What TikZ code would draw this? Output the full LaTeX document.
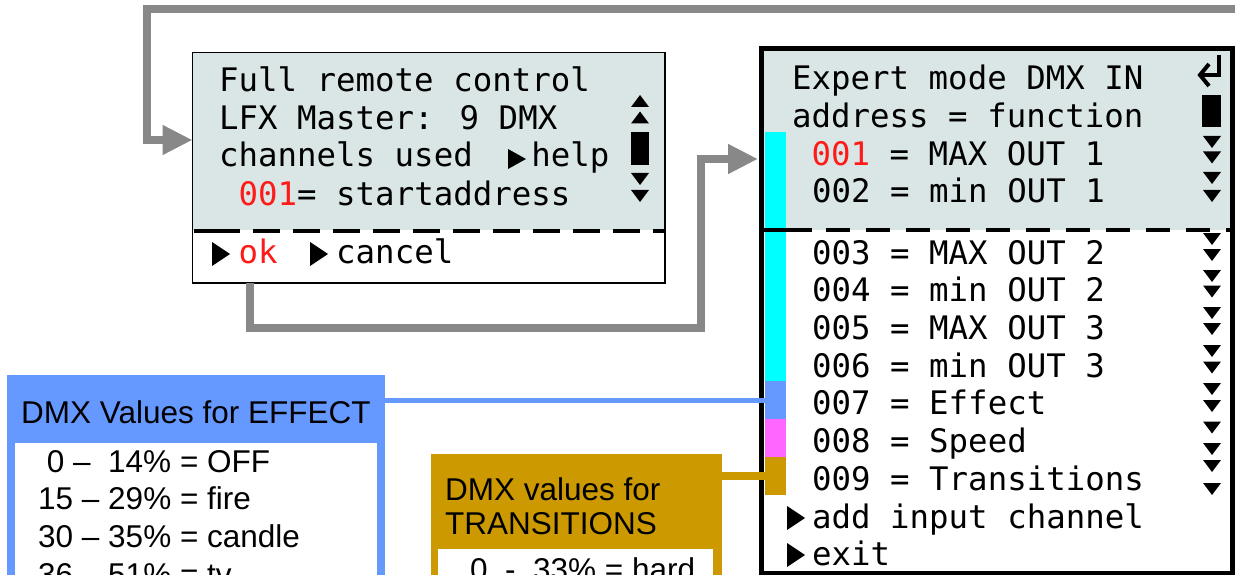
\documentclass[tikz,border=0pt]{standalone}
\usepackage{fontspec}
\setmainfont{Liberation Sans}
\newfontfamily\lcdfont{DejaVu Sans Mono}
\usetikzlibrary{positioning}
\usetikzlibrary{arrows.meta}

\definecolor{lcdbg}{HTML}{DAE6E6}
\definecolor{linkgray}{HTML}{888888}
\definecolor{outcyan}{HTML}{00FFFF}
\definecolor{fxblue}{HTML}{6699FF}
\definecolor{trgold}{HTML}{CC9900}
\definecolor{spdpink}{HTML}{FF66FF}
\definecolor{lcdred}{HTML}{FF1A1A}

\tikzset{
  lcd/.style={anchor=base west,inner sep=0pt,font=\lcdfont\fontsize{32.4}{38}\selectfont},
  legend/.style={anchor=base west,inner sep=0pt,font=\fontsize{31.5}{38}\selectfont},
  screen/.style={anchor=north west,outer sep=0pt,inner sep=0pt,fill=white,draw=black},
  band/.style={anchor=north west,outer sep=0pt,inner sep=0pt,minimum width=21pt,minimum height=38pt},
  link/.style={linkgray,line width=8pt,-{Triangle[width=28pt,length=30pt]}},
}

\begin{document}
\begin{tikzpicture}[x=1pt,y=-1pt]
 \useasboundingbox (0,0) rectangle (1235,575);
 \clip (0,0) rectangle (1235,575);

 % left screen
 \node[screen,line width=1.5pt,minimum width=472.5pt,minimum height=230.5pt,
   path picture={\fill[lcdbg] (path picture bounding box.north west) rectangle ([yshift=53pt]path picture bounding box.south east);}]
   (remote) at (192.5,52.5) {};
 \draw[line width=4pt] (194,231) -- (240,231);
 \draw[line width=4pt,dash pattern=on 27pt off 13pt] (253,231) -- (664,231);
 \node[lcd] (l1) at (219,92) {Full remote control};
 \node[lcd] (l2) at (219,130) {LFX Master: 9 DMX};
 \node[lcd] (l3) at (219,167) {channels used~~~help};
 \node[lcd] (l4) at (219,205) {~{\color{lcdred}001}= startaddress};
 \node[lcd] (l5) at (219,263) {~{\color{lcdred}ok}~~~cancel};
 \foreach \y in {101,117.5} \fill (631,\y+6) -- (649,\y+6) -- (640,\y-6) -- cycle;
 \fill (631,132) rectangle (649,165);
 \foreach \y in {179,196} \fill (631,\y-6) -- (649,\y-6) -- (640,\y+6) -- cycle;

 % right screen
 \node[screen,line width=5pt,minimum width=471pt,minimum height=524pt,
   path picture={\fill[lcdbg] (path picture bounding box.north west) rectangle ([yshift=-181pt]path picture bounding box.north east);}]
   (expert) at (761,49) {};
 \node[band,fill=outcyan,minimum height=249pt] (bandout) at (765,132) {};
 \node[band,fill=fxblue,below=0pt of bandout] (bandfx) {};
 \node[band,fill=spdpink,below=0pt of bandfx] (bandspd) {};
 \node[band,fill=trgold,below=0pt of bandspd] (bandtr) {};
 \draw[line width=4pt] (763,230) -- (812,230);
 \draw[line width=4pt,dash pattern=on 24pt off 16pt] (826,230) -- (1230,230);
 \node[lcd] (title) at (792,90) {Expert mode DMX IN};
 \node[lcd] (head) at (792,127.5) {address = function};
 \node[lcd] (row1) at (792,166) {~{\color{lcdred}001} = MAX OUT 1};
 \foreach \y/\txt [count=\i from 2] in {203/002 = min OUT 1, 264/003 = MAX OUT 2,
   301/004 = min OUT 2, 339/005 = MAX OUT 3, 377/006 = min OUT 3, 414/007 = Effect,
   452/008 = Speed, 490/009 = Transitions}
   \node[lcd] (row\i) at (812,\y) {\txt};
 \node[lcd] (addch) at (812,528) {add input channel};
 \node[lcd] (exit) at (812,565) {exit};
 \draw[line width=4pt] (1219,55) -- (1219,75) -- (1200,75);
 \draw[line width=4pt] (1209,64) -- (1200,75) -- (1209,86);
 \fill (1202,95) rectangle (1221,127);
 \foreach \y in {142,157.5,178,196,239,255,276,291.5,313,329,351,367.5,389,406,427.5,449,466,489}
   \fill (1203,\y-6) -- (1221,\y-6) -- (1212,\y+6) -- cycle;

 % pointers
 \foreach \x/\y/\h in {508/159/10, 212/254/12, 310/254/12, 787/518/12, 787/555/12}
   \fill (\x,\y-\h) -- (\x+18,\y) -- (\x,\y+\h) -- cycle;

 % legend boxes
 \node[screen,draw=none,fill=fxblue,minimum width=378pt,minimum height=260pt,
   path picture={\fill[white] ([xshift=8pt,yshift=-68pt]path picture bounding box.north west) rectangle ([xshift=-8pt]path picture bounding box.south east);}]
   (effect) at (7,375) {};
 \node[legend] (fxhead) at (21,423) {DMX Values for EFFECT};
 \node[legend] (fx1) at (38,472) {\ 0 –\ \ 14\% = OFF};
 \node[legend] (fx2) at (38,509) {15 – 29\% = fire};
 \node[legend] (fx3) at (38,547) {30 – 35\% = candle};
 \node[legend] (fx4) at (38,585) {36 – 51\% = tv};

 \node[screen,draw=none,fill=trgold,minimum width=291pt,minimum height=200pt,
   path picture={\fill[white] ([xshift=7pt,yshift=-95pt]path picture bounding box.north west) rectangle ([xshift=-9pt]path picture bounding box.south east);}]
   (trans) at (431,454) {};
 \node[legend] (trhead1) at (445,500) {DMX values for};
 \node[legend] (trhead2) at (445,534) {TRANSITIONS};
 \node[legend] (tr1) at (470,580) {0\ \ -\ \ 33\% = hard};

 \draw[fxblue,line width=5pt] ([yshift=-25pt]effect.north east) -- (bandfx.west);
 \draw[trgold,line width=8pt] ([yshift=-22pt]trans.north east) -- (bandtr.west);

 % gray links
 \coordinate (offpage) at (1240,9);
 \draw[link] (offpage) -| (147,140) -- ([yshift=27.75pt]remote.west);
 \draw[link] ([xshift=57pt]remote.south west) |- (701,328) |- ([xshift=-3pt,yshift=152pt]expert.west);
\end{tikzpicture}
\end{document}
